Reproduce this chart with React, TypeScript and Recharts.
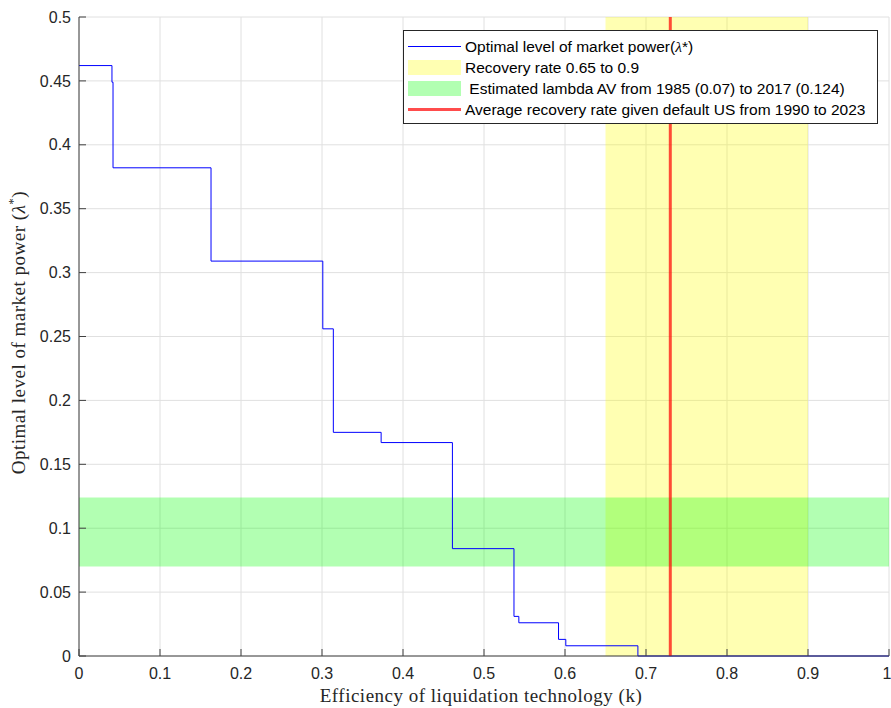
import {
  ComposedChart,
  Line,
  XAxis,
  YAxis,
  CartesianGrid,
  ReferenceArea,
  ReferenceLine,
  Legend
} from 'recharts'

// step points of lambda*(k) (stepAfter)
const kValues = [0, 0.0407, 0.042, 0.163, 0.301, 0.314, 0.373, 0.461, 0.537, 0.543, 0.592, 0.601, 0.69, 1]
const lambdaValues = [0.462, 0.449, 0.382, 0.309, 0.256, 0.175, 0.167, 0.084, 0.031, 0.026, 0.013, 0.008, 0, 0]

const xTicks = [0, 0.1, 0.2, 0.3, 0.4, 0.5, 0.6, 0.7, 0.8, 0.9, 1]
const yTicks = [0, 0.05, 0.1, 0.15, 0.2, 0.25, 0.3, 0.35, 0.4, 0.45, 0.5]

const recoveryBand = [0.65, 0.9]
const lambdaBand = [0.07, 0.124]
const avgRecovery = 0.73

const legendLabels = [
  'Optimal level of market power(',
  'Recovery rate 0.65 to 0.9',
  ' Estimated lambda AV from 1985 (0.07) to 2017 (0.124)',
  'Average recovery rate given default US from 1990 to 2023'
]

const data = kValues.map((k, i) => ({ k, lambda: lambdaValues[i] }))

const sans = '"Liberation Sans", Arial, Helvetica, sans-serif'
const serif = '"Liberation Serif", "Times New Roman", serif'
const axisColor = '#404040'
const tickStyle = { fontFamily: sans, fontSize: 16, fill: '#262626' }
const fmt = (v: number) => String(+v.toFixed(2))

function XLabel(props: any) {
  const { x, y, width } = props.viewBox
  return (
    <text
      x={x + width / 2 - 3}
      y={y + 46}
      textAnchor="middle"
      fontFamily={serif}
      fontSize={19}
      letterSpacing={0.5}
      fill="#262626"
    >
      Efficiency of liquidation technology (k)
    </text>
  )
}

function YLabel(props: any) {
  const { y, height } = props.viewBox
  const cx = 21
  const cy = y + height / 2 - 4
  return (
    <text
      x={cx}
      y={cy}
      transform={`rotate(-90, ${cx}, ${cy})`}
      textAnchor="middle"
      dominantBaseline="middle"
      fontFamily={serif}
      fontSize={19}
      letterSpacing={0.5}
      fill="#262626"
    >
      Optimal level of market power (<tspan fontStyle="italic">λ</tspan>
      <tspan fontSize={13} dy={-7}>*</tspan>
      <tspan dy={7}>)</tspan>
    </text>
  )
}

const swatches = [
  <div style={{ width: 53, height: 1, background: '#0000ff' }} />,
  <div style={{ width: 53, height: 15, background: 'rgba(255,255,0,0.3)' }} />,
  <div style={{ width: 53, height: 15, background: 'rgba(0,255,0,0.3)' }} />,
  <div style={{ width: 53, height: 3, background: 'rgba(255,0,0,0.7)' }} />
]

function LegendBox() {
  return (
    <div
      style={{
        width: 475,
        height: 94,
        boxSizing: 'border-box',
        border: '1px solid #262626',
        background: '#fff',
        padding: '5px 0 0 4px',
        fontFamily: sans,
        fontSize: 15.5,
        color: '#000'
      }}
    >
      {legendLabels.map((label, i) => (
        <div key={i} style={{ display: 'flex', alignItems: 'center', height: 21 }}>
          <div style={{ width: 53, display: 'flex', justifyContent: 'center' }}>{swatches[i]}</div>
          <span style={{ marginLeft: 4, whiteSpace: 'pre' }}>
            {label}
            {i === 0 && (
              <>
                <span style={{ fontFamily: serif, fontStyle: 'italic' }}>λ</span>*)
              </>
            )}
          </span>
        </div>
      ))}
    </div>
  )
}

export default function App() {
  return (
    <div style={{ position: 'absolute', left: 0, top: 0, background: '#fff' }}>
      <ComposedChart width={891} height={708} data={data} margin={{ top: 17, right: 2, left: 0, bottom: 0 }}>
        <CartesianGrid stroke="#e0e0e0" strokeWidth={1} />
        <XAxis
          dataKey="k"
          type="number"
          domain={[0, 1]}
          ticks={xTicks}
          tickFormatter={fmt}
          height={52}
          tickSize={-7}
          tickMargin={19}
          stroke={axisColor}
          tick={tickStyle}
          label={(p: any) => <XLabel {...p} />}
        />
        <XAxis
          xAxisId="top"
          orientation="top"
          type="number"
          domain={[0, 1]}
          ticks={xTicks}
          height={0}
          tickSize={-7}
          tick={false}
          stroke={axisColor}
        />
        <YAxis
          type="number"
          domain={[0, 0.5]}
          ticks={yTicks}
          tickFormatter={fmt}
          width={79}
          tickSize={-7}
          tickMargin={15}
          stroke={axisColor}
          tick={tickStyle}
          label={(p: any) => <YLabel {...p} />}
        />
        <YAxis
          yAxisId="right"
          orientation="right"
          type="number"
          domain={[0, 0.5]}
          ticks={yTicks}
          width={0}
          tickSize={-7}
          tick={false}
          stroke={axisColor}
        />
        <Line
          type="stepAfter"
          dataKey="lambda"
          stroke="#0000ff"
          strokeWidth={1}
          dot={false}
          activeDot={false}
          isAnimationActive={false}
          legendType="none"
        />
        <ReferenceArea x1={recoveryBand[0]} x2={recoveryBand[1]} fill="#ffff00" fillOpacity={0.3} stroke="none" />
        <ReferenceArea y1={lambdaBand[0]} y2={lambdaBand[1]} fill="#00ff00" fillOpacity={0.3} stroke="none" />
        <ReferenceLine x={avgRecovery} stroke="#ff0000" strokeOpacity={0.7} strokeWidth={3} />
        <Legend
          layout="horizontal"
          verticalAlign="middle"
          align="center"
          content={() => <LegendBox />}
          wrapperStyle={{ left: 403, top: 30, width: 475, height: 94 }}
        />
      </ComposedChart>
    </div>
  )
}
